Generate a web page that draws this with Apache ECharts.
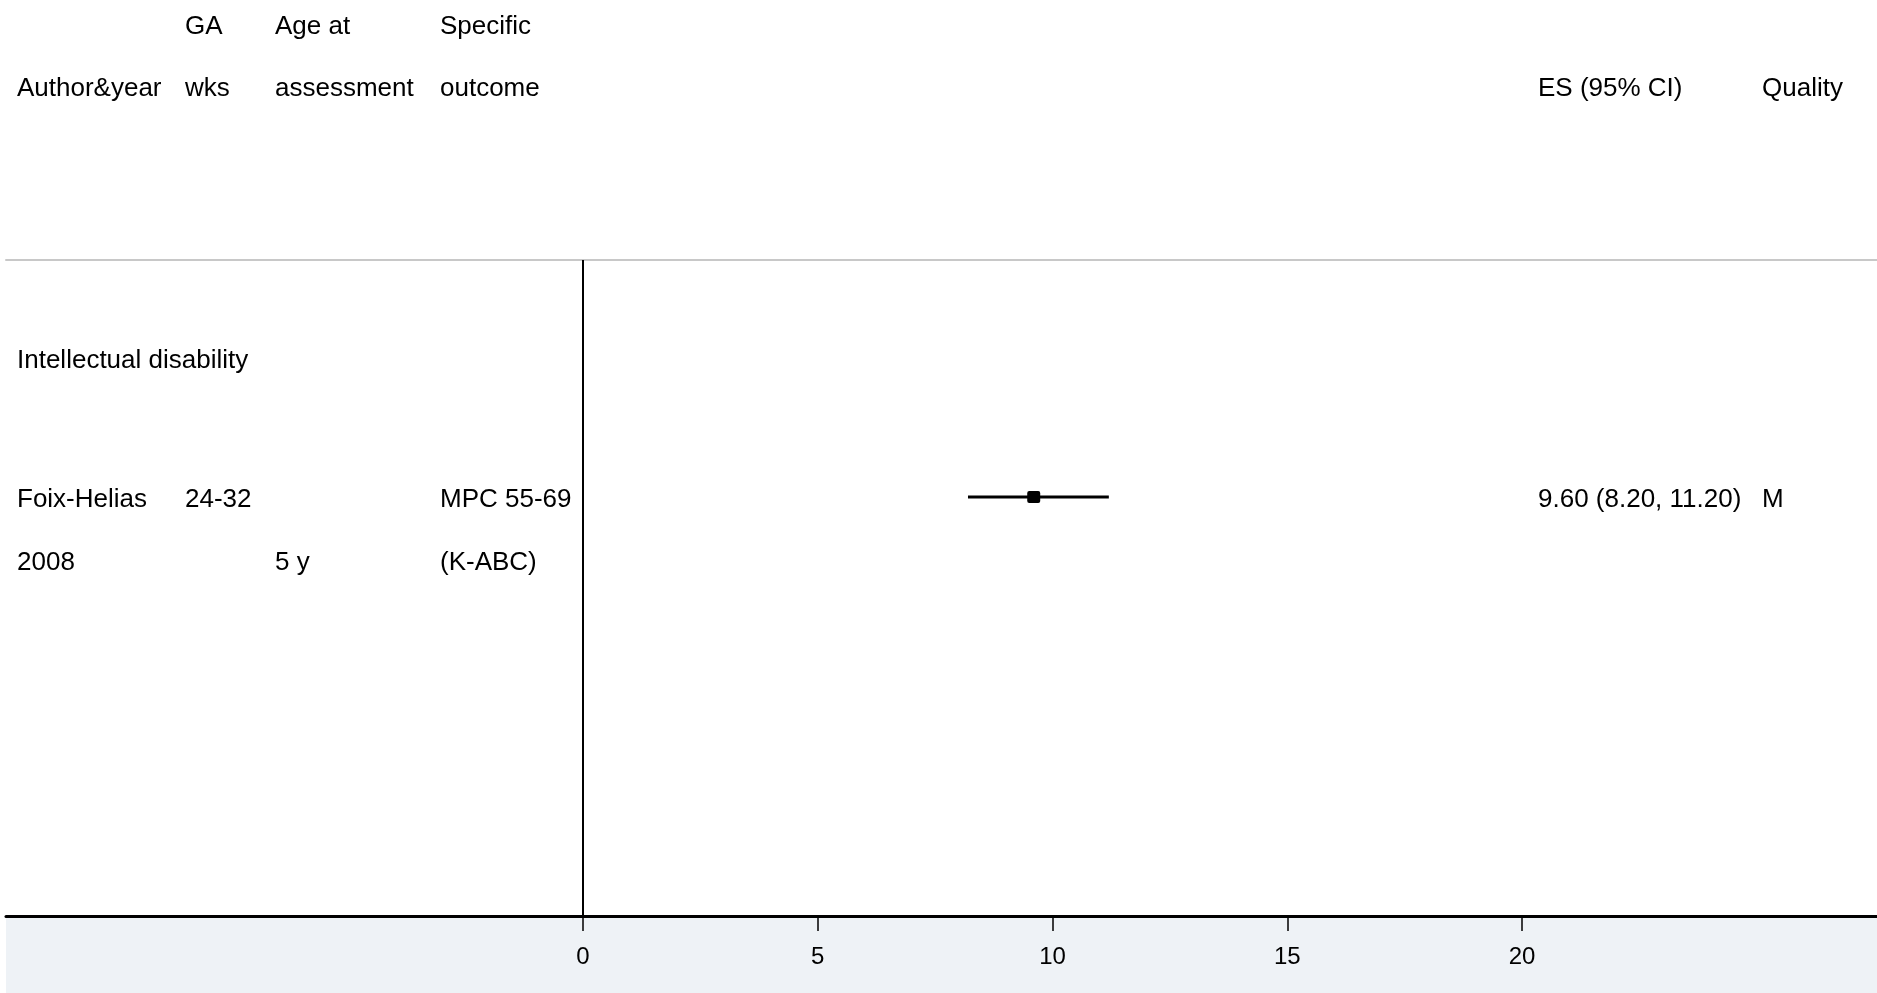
<!DOCTYPE html>
<html>
<head>
<meta charset="utf-8">
<script src="https://cdn.jsdelivr.net/npm/echarts@6/dist/echarts.min.js"></script>
<style>
html,body{margin:0;padding:0;background:#fff;}
#chart{width:1877px;height:993px;}
</style>
</head>
<body>
<div id="chart"></div>
<script>
// ---- data ----
const headerLine1 = ['', 'GA', 'Age at', 'Specific', '', ''];
const headerLine2 = ['Author&year', 'wks', 'assessment', 'outcome', 'ES (95% CI)', 'Quality'];
const groupLabels = ['Intellectual disability'];
const groupRows = [1.57];
const authors = ['Foix-Helias'];
const years = ['2008'];
const gaWeeks = ['24-32'];
const ageAtAssessment = ['5 y'];
const outcomeLine1 = ['MPC 55-69'];
const outcomeLine2 = ['(K-ABC)'];
const es = [9.60];
const ciLow = [8.20];
const ciHigh = [11.20];
const quality = ['M'];
const studyRows = [3.79];
const xTicks = [0, 5, 10, 15, 20];

// ---- layout ----
const W = 1877, H = 993;
const gridLeft = 6, gridTop = 260, gridBottom = 77;
const zeroPx = 583, pxPerUnit = (1522 - 583) / 20;
const X_MIN = -(zeroPx - gridLeft) / pxPerUnit;
const X_MAX = (W - zeroPx) / pxPerUnit;
const rowPx = 62.5;
const Y_MAX = (H - gridBottom - gridTop) / rowPx;
const colX = [17, 185, 275, 440, 1538, 1762];
const FONT = '"Liberation Sans", Arial, sans-serif';
const FS = 26;
const OFF = 3; // shift of text centre

const chart = echarts.init(document.getElementById('chart'), null, {renderer: 'canvas'});

function txt(x, yc, s) {
  return {type: 'text', x: x, y: yc + OFF, style: {text: s, font: FS + 'px ' + FONT, fill: '#000', textAlign: 'left', textVerticalAlign: 'middle'}};
}

const headerGraphics = [];
headerLine1.forEach((s, i) => { if (s) headerGraphics.push(txt(colX[i], 24, s)); });
headerLine2.forEach((s, i) => { if (s) headerGraphics.push(txt(colX[i], 86, s)); });

const studyData = es.map((v, i) => [v, studyRows[i], ciLow[i], ciHigh[i], i]);
const groupData = groupRows.map((r, i) => [0, r, i]);

const option = {
  animation: false,
  backgroundColor: '#ffffff',
  graphic: [
    {type: 'rect', shape: {x: gridLeft, y: H - gridBottom, width: W - gridLeft, height: gridBottom}, style: {fill: '#eef2f6'}, z: -10}
  ].concat(headerGraphics),
  grid: {left: gridLeft, right: 0, top: gridTop, bottom: gridBottom},
  xAxis: [{
    type: 'value', min: X_MIN, max: X_MAX, position: 'bottom',
    axisLine: {show: true, onZero: false, lineStyle: {color: '#000', width: 3}},
    axisTick: {show: true, customValues: xTicks, length: 15, lineStyle: {color: '#000', width: 1.5}},
    axisLabel: {show: true, customValues: xTicks, margin: 29, fontSize: 24, fontFamily: FONT, color: '#000'},
    splitLine: {show: false}
  }, {
    type: 'value', min: X_MIN, max: X_MAX, position: 'top',
    axisLine: {show: true, onZero: false, lineStyle: {color: '#c8c8c8', width: 2}},
    axisTick: {show: false}, axisLabel: {show: false}, splitLine: {show: false}
  }],
  yAxis: {type: 'value', inverse: true, min: 0, max: Y_MAX, show: false},
  series: [{
    type: 'custom',
    name: 'studies',
    data: studyData,
    renderItem: function (params, api) {
      const i = api.value(4);
      const p = api.coord([api.value(0), api.value(1)]);
      const a = api.coord([api.value(2), api.value(1)]);
      const b = api.coord([api.value(3), api.value(1)]);
      const y = p[1];
      const y2 = y + rowPx;
      const t = (x, yc, s) => ({type: 'text', x: x, y: yc + OFF, style: {text: s, font: FS + 'px ' + FONT, fill: '#000', textAlign: 'left', textVerticalAlign: 'middle'}});
      return {type: 'group', children: [
        {type: 'line', shape: {x1: a[0], y1: y, x2: b[0], y2: y}, style: {stroke: '#000', lineWidth: 3}},
        {type: 'rect', shape: {x: p[0] - 6.5, y: y - 6, width: 13, height: 12, r: 2}, style: {fill: '#000'}},
        t(colX[0], y, authors[i]),
        t(colX[0], y2, years[i]),
        t(colX[1], y, gaWeeks[i]),
        t(colX[2], y2, ageAtAssessment[i]),
        t(colX[3], y, outcomeLine1[i]),
        t(colX[3], y2, outcomeLine2[i]),
        t(colX[4], y, es[i].toFixed(2) + ' (' + ciLow[i].toFixed(2) + ', ' + ciHigh[i].toFixed(2) + ')'),
        t(colX[5], y, quality[i])
      ]};
    },
    markLine: {
      silent: true, symbol: 'none', label: {show: false},
      lineStyle: {color: '#000', width: 2, type: 'solid'},
      data: [{xAxis: 0}]
    },
    z: 5
  }, {
    type: 'custom',
    name: 'groups',
    data: groupData,
    renderItem: function (params, api) {
      const i = api.value(2);
      const p = api.coord([0, api.value(1)]);
      return {type: 'text', x: colX[0], y: p[1] + OFF, style: {text: groupLabels[i], font: FS + 'px ' + FONT, fill: '#000', textAlign: 'left', textVerticalAlign: 'middle'}};
    }
  }]
};
chart.setOption(option);
</script>
</body>
</html>
